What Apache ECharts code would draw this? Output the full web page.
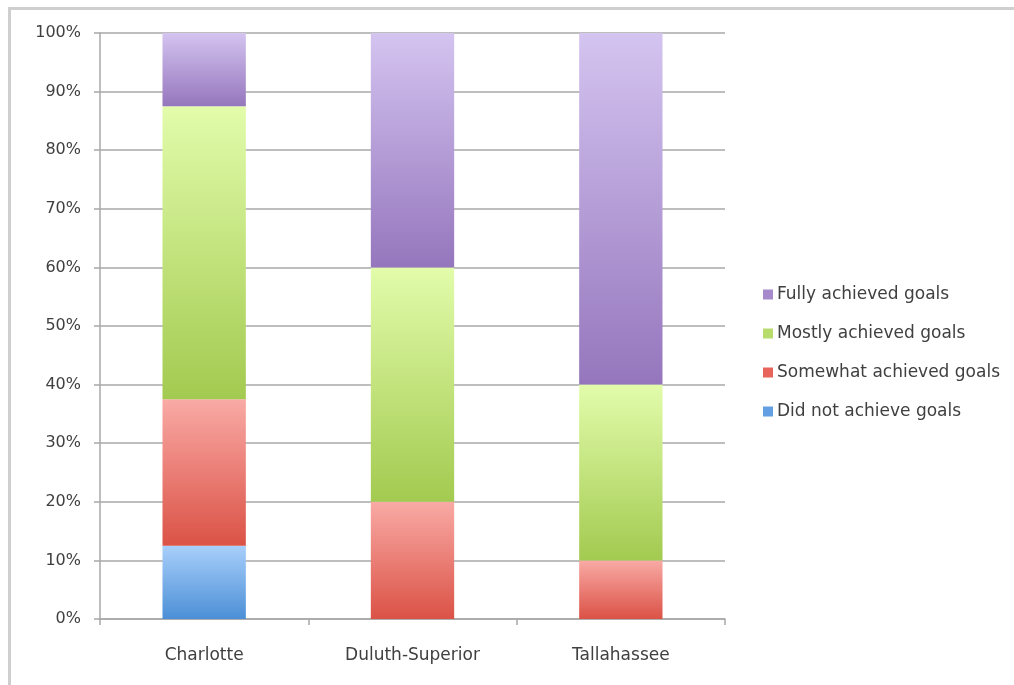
<!DOCTYPE html>
<html>
<head>
<meta charset="utf-8">
<script src="https://cdn.jsdelivr.net/npm/echarts@6/dist/echarts.min.js"></script>
<style>
  html, body { margin: 0; padding: 0; background: #fff; }
  #chart { width: 1014px; height: 685px; }
</style>
</head>
<body>
<div id="chart"></div>
<script>
'use strict';

const cities = ['Charlotte', 'Duluth-Superior', 'Tallahassee'];
const didNot = [12.5, 0, 0];
const somewhat = [25, 20, 10];
const mostly = [50, 40, 30];
const fully = [12.5, 40, 60];
const legendOrder = ['Fully achieved goals', 'Mostly achieved goals', 'Somewhat achieved goals', 'Did not achieve goals'];
const swatches = {
  'Fully achieved goals': '#a68acc',
  'Mostly achieved goals': '#b8dc6c',
  'Somewhat achieved goals': '#e8655c',
  'Did not achieve goals': '#62a0e3'
};

function grad(top, bottom) {
  return new echarts.graphic.LinearGradient(0, 0, 0, 1, [
    { offset: 0, color: top },
    { offset: 1, color: bottom }
  ]);
}

function barSeries(name, data, top, bottom) {
  return {
    name: name,
    type: 'bar',
    stack: 'total',
    barWidth: '40%',
    data: data,
    itemStyle: { color: grad(top, bottom) }
  };
}

const chart = echarts.init(document.getElementById('chart'));
const font = 'DejaVu Sans';

chart.setOption({
  animation: false,
  textStyle: { fontFamily: font },
  graphic: [
    { type: 'line', shape: { x1: 8, y1: 8.5, x2: 1014, y2: 8.5 }, style: { stroke: '#cfcfcf', lineWidth: 3 } },
    { type: 'line', shape: { x1: 9.5, y1: 8, x2: 9.5, y2: 685 }, style: { stroke: '#cfcfcf', lineWidth: 3 } }
  ],
  grid: { left: 100, right: 289, top: 33, bottom: 66, containLabel: false },
  legend: {
    orient: 'vertical',
    left: 758,
    top: 281,
    icon: 'rect',
    itemWidth: 10,
    itemHeight: 10,
    itemGap: 22,
    data: legendOrder.map(function(n) {
      return { name: n, itemStyle: { color: swatches[n] } };
    }),
    textStyle: { fontFamily: font, fontSize: 17, color: '#404040', padding: [0, 0, 0, -1] }
  },
  xAxis: {
    type: 'category',
    data: cities,
    axisLine: { lineStyle: { color: '#a8a8a8', width: 1.5 } },
    axisTick: { show: true, length: 6, lineStyle: { color: '#a8a8a8', width: 1.5 } },
    axisLabel: { margin: 28, fontSize: 17, color: '#404040', fontFamily: font }
  },
  yAxis: {
    type: 'value',
    min: 0,
    max: 100,
    interval: 10,
    axisLine: { show: true, lineStyle: { color: '#a8a8a8', width: 1.5 } },
    axisTick: { show: true, length: 6, lineStyle: { color: '#a8a8a8', width: 1.5 } },
    splitLine: { lineStyle: { color: '#a8a8a8', width: 1.5 } },
    axisLabel: { margin: 19, fontSize: 16, color: '#404040', fontFamily: font, formatter: '{value}%' }
  },
  series: [
    barSeries('Did not achieve goals', didNot, '#a8cffb', '#4c8fd6'),
    barSeries('Somewhat achieved goals', somewhat, '#f9aaa5', '#db5246'),
    barSeries('Mostly achieved goals', mostly, '#e2fcab', '#a3ca50'),
    barSeries('Fully achieved goals', fully, '#d4c4f0', '#9576bd')
  ]
});
</script>
</body>
</html>
